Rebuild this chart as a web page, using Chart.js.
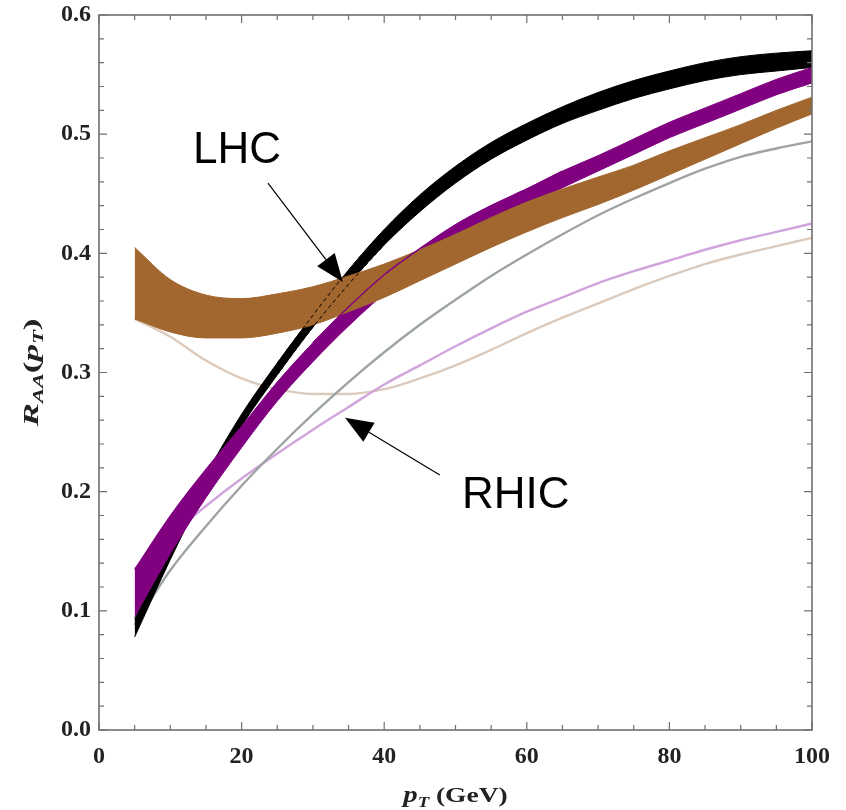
<!DOCTYPE html>
<html lang="en">
<head>
<meta charset="UTF-8">
<title>R_AA(pT)</title>
<script src="https://cdn.jsdelivr.net/npm/chart.js"></script>
</head>
<body style="margin:0; background:#ffffff;">

<canvas id="myChart" width="846" height="810"></canvas>

<script>
// pT grid (GeV) shared by every curve
const ptGrid = [5, 10, 15, 20, 25, 30, 35, 40, 45, 50, 55, 60, 65, 70, 75, 80, 85, 90, 95, 100];

// LHC bands (lower / upper edge)
const lhcBlackLow  = [0.078, 0.143, 0.203, 0.255, 0.298, 0.338, 0.374, 0.407, 0.435, 0.459, 0.479, 0.495, 0.509, 0.520, 0.530, 0.538, 0.545, 0.550, 0.553, 0.556];
const lhcBlackHigh = [0.093, 0.155, 0.214, 0.265, 0.308, 0.348, 0.386, 0.420, 0.449, 0.473, 0.493, 0.509, 0.523, 0.535, 0.545, 0.553, 0.560, 0.565, 0.568, 0.570];
const lhcPurpleLow  = [0.095, 0.148, 0.195, 0.237, 0.276, 0.309, 0.339, 0.366, 0.389, 0.410, 0.426, 0.440, 0.455, 0.469, 0.483, 0.497, 0.509, 0.521, 0.533, 0.543];
const lhcPurpleHigh = [0.135, 0.180, 0.219, 0.255, 0.292, 0.325, 0.355, 0.382, 0.404, 0.424, 0.440, 0.454, 0.469, 0.482, 0.496, 0.510, 0.522, 0.534, 0.546, 0.556];
const lhcBrownLow  = [0.345, 0.334, 0.329, 0.329, 0.333, 0.340, 0.351, 0.363, 0.377, 0.391, 0.405, 0.418, 0.430, 0.441, 0.453, 0.466, 0.479, 0.492, 0.505, 0.517];
const lhcBrownHigh = [0.405, 0.378, 0.365, 0.362, 0.366, 0.372, 0.381, 0.391, 0.403, 0.416, 0.430, 0.443, 0.454, 0.464, 0.474, 0.486, 0.497, 0.508, 0.520, 0.531];

// RHIC curves (thin lines)
const rhicGray   = [0.088, 0.134, 0.171, 0.205, 0.236, 0.265, 0.292, 0.317, 0.340, 0.361, 0.381, 0.399, 0.416, 0.432, 0.446, 0.459, 0.471, 0.481, 0.488, 0.494];
const rhicViolet = [0.135, 0.163, 0.188, 0.211, 0.232, 0.252, 0.271, 0.290, 0.306, 0.322, 0.337, 0.351, 0.363, 0.375, 0.385, 0.394, 0.403, 0.411, 0.418, 0.425];
const rhicTan    = [0.345, 0.330, 0.310, 0.295, 0.286, 0.282, 0.282, 0.286, 0.295, 0.306, 0.319, 0.333, 0.346, 0.358, 0.370, 0.381, 0.391, 0.399, 0.406, 0.413];

// axis ticks
const xTicks = [0, 20, 40, 60, 80, 100];
const yTicks = [0.0, 0.1, 0.2, 0.3, 0.4, 0.5, 0.6];

// arrows: [label, text x, text y, tail x, tail y, tip x, tip y] in data units
const notes = [
  ['LHC', 13.2, 0.4758, 23.7, 0.459, 34.2, 0.376],
  ['RHIC', 50.9, 0.1863, 47.8, 0.214, 34.5, 0.262]
];

const BLACK = '#000000';
const PURPLE = '#800080';
const BROWN = '#a2672f';

const pts = (arr, from, to) => arr.map((v, i) => ({ x: ptGrid[i], y: v }))
  .filter(p => p.x >= (from || 0) && p.x <= (to || 100));

function line(data, color, width, extra) {
  return Object.assign({
    data: pts(data),
    borderColor: color,
    borderWidth: width,
    pointRadius: 0,
    fill: false,
    cubicInterpolationMode: 'monotone'
  }, extra || {});
}

// first dataset is drawn on top
const datasets = [
  line(lhcPurpleHigh, PURPLE, 1.4, { data: pts(lhcPurpleHigh, 30, 65) }),
  line(lhcBlackLow, BLACK, 1, { data: pts(lhcBlackLow, 25, 40), borderDash: [4, 3] }),
  line(lhcBlackHigh, BLACK, 1, { data: pts(lhcBlackHigh, 25, 40), borderDash: [4, 3] }),
  line(lhcBrownHigh, BROWN, 1, { fill: '+1', backgroundColor: BROWN }),
  line(lhcBrownLow, BROWN, 1),
  line(lhcPurpleHigh, PURPLE, 1, { fill: '+1', backgroundColor: PURPLE }),
  line(lhcPurpleLow, PURPLE, 1),
  line(lhcBlackHigh, BLACK, 1, { fill: '+1', backgroundColor: BLACK }),
  line(lhcBlackLow, BLACK, 1),
  line(rhicGray, '#9ea3a3', 2.4),
  line(rhicViolet, '#d0a4dc', 2.4),
  line(rhicTan, '#dccbbd', 2.4)
];

const frameTicks = {
  id: 'frameTicks',
  afterDraw(chart) {
    const { ctx, chartArea: a, scales: { x, y } } = chart;
    ctx.save();
    ctx.strokeStyle = '#707070';
    ctx.lineWidth = 1.6;
    ctx.strokeRect(a.left, a.top, a.right - a.left, a.bottom - a.top);
    ctx.lineWidth = 1.2;
    ctx.beginPath();
    for (let v = 0; v <= 100; v += 5) {
      const px = x.getPixelForValue(v);
      const len = v % 20 === 0 ? 8 : 5;
      ctx.moveTo(px, a.bottom); ctx.lineTo(px, a.bottom - len);
      ctx.moveTo(px, a.top); ctx.lineTo(px, a.top + len);
    }
    for (let i = 0; i <= 30; i++) {
      const py = y.getPixelForValue(i * 0.02);
      const len = i % 5 === 0 ? 8 : 5;
      ctx.moveTo(a.left, py); ctx.lineTo(a.left + len, py);
      ctx.moveTo(a.right, py); ctx.lineTo(a.right - len, py);
    }
    ctx.stroke();
    ctx.restore();
  }
};

// draws [text, font, baseline shift] pieces centred on 0, stretched sideways by sx
function drawPieces(ctx, parts, sx) {
  let w = 0;
  parts.forEach(p => { ctx.font = p[1]; w += ctx.measureText(p[0]).width; });
  ctx.scale(sx, 1);
  let cx = -w / 2;
  parts.forEach(p => {
    ctx.font = p[1];
    ctx.fillText(p[0], cx, p[2]);
    cx += ctx.measureText(p[0]).width;
  });
}

const titles = {
  id: 'titles',
  afterDraw(chart) {
    const { ctx, chartArea: a } = chart;
    ctx.fillStyle = '#222';
    ctx.textBaseline = 'alphabetic';

    ctx.save();
    ctx.translate((a.left + a.right) / 2, 802);
    drawPieces(ctx, [
      ['p', 'italic bold 23px "Liberation Serif"', 0],
      ['T', 'italic bold 15px "Liberation Serif"', 5],
      [' (GeV)', 'bold 22px "Liberation Serif"', 0]
    ], 1.25);
    ctx.restore();

    ctx.save();
    ctx.translate(38, (a.top + a.bottom) / 2);
    ctx.rotate(-Math.PI / 2);
    drawPieces(ctx, [
      ['R', 'italic 600 22px "Liberation Serif"', 0],
      ['AA', 'italic 600 14px "Liberation Serif"', 5],
      ['(', '600 22px "Liberation Serif"', 0],
      ['p', 'italic 600 22px "Liberation Serif"', 0],
      ['T', 'italic 600 14px "Liberation Serif"', 5],
      [')', '600 22px "Liberation Serif"', 0]
    ], 1.6);
    ctx.restore();
  }
};

const arrows = {
  id: 'arrows',
  afterDraw(chart) {
    const { ctx, scales: { x, y } } = chart;
    ctx.save();
    ctx.fillStyle = '#000';
    ctx.strokeStyle = '#000';
    ctx.font = '44px "Liberation Sans"';
    notes.forEach(n => {
      ctx.fillText(n[0], x.getPixelForValue(n[1]), y.getPixelForValue(n[2]));
      const x0 = x.getPixelForValue(n[3]), y0 = y.getPixelForValue(n[4]);
      const x1 = x.getPixelForValue(n[5]), y1 = y.getPixelForValue(n[6]);
      const ang = Math.atan2(y1 - y0, x1 - x0);
      const head = 28, half = 11;
      const bx = x1 - head * Math.cos(ang), by = y1 - head * Math.sin(ang);
      ctx.lineWidth = 1.2;
      ctx.beginPath();
      ctx.moveTo(x0, y0);
      ctx.lineTo(bx, by);
      ctx.stroke();
      ctx.beginPath();
      ctx.moveTo(x1, y1);
      ctx.lineTo(bx + half * Math.sin(ang), by - half * Math.cos(ang));
      ctx.lineTo(bx - half * Math.sin(ang), by + half * Math.cos(ang));
      ctx.closePath();
      ctx.fill();
    });
    ctx.restore();
  }
};

new Chart(document.getElementById('myChart'), {
  type: 'line',
  data: { datasets: datasets },
  options: {
    responsive: false,
    animation: false,
    layout: { padding: { top: 15, right: 34 } },
    plugins: { legend: { display: false }, tooltip: { enabled: false } },
    scales: {
      x: {
        type: 'linear', min: 0, max: 100,
        grid: { display: false, drawTicks: false },
        border: { display: false },
        afterBuildTicks: s => { s.ticks = xTicks.map(v => ({ value: v })); },
        afterFit: s => { s.height = 80; },
        ticks: { color: '#222', font: { family: '"Liberation Serif"', size: 24, weight: 'bold' }, padding: 12, maxRotation: 0 }
      },
      y: {
        type: 'linear', min: 0, max: 0.6,
        grid: { display: false, drawTicks: false },
        border: { display: false },
        afterBuildTicks: s => { s.ticks = yTicks.map(v => ({ value: v })); },
        afterFit: s => { s.width = 99; },
        ticks: {
          color: '#222',
          font: { family: '"Liberation Serif"', size: 24, weight: 'bold', lineHeight: 0.5 },
          padding: 8,
          callback: v => v.toFixed(1)
        }
      }
    }
  },
  plugins: [frameTicks, titles, arrows]
});
</script>
</body>
</html>
